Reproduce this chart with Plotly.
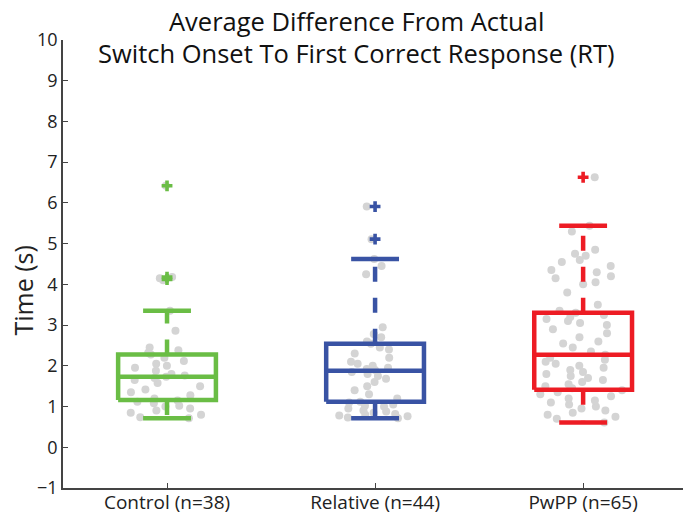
import plotly.graph_objects as go

groups = ["Control (n=38)", "Relative (n=44)", "PwPP (n=65)"]
colors = ["#6abd45", "#3953a4", "#ed1c24"]

# box statistics
q1 = [1.16, 1.12, 1.41]
median = [1.73, 1.88, 2.27]
q3 = [2.28, 2.54, 3.30]
lower_cap = [0.71, 0.71, 0.61]
upper_cap = [3.35, 4.62, 5.44]
outliers = [[4.12, 4.18, 6.42], [5.11, 5.91], [6.63]]

# individual subject values (gray dots)
control_vals = [0.71, 0.74, 0.8, 0.85, 0.9, 0.95, 1.0, 1.02, 1.08, 1.12, 1.15, 1.2, 1.28, 1.35,
                1.42, 1.5, 1.58, 1.65, 1.7, 1.73, 1.76, 1.8, 1.88, 1.95, 2.0, 2.05, 2.12, 2.2,
                2.28, 2.32, 2.38, 2.45, 2.86, 3.35, 4.1, 4.15, 4.18, 6.42]
relative_vals = [0.71, 0.73, 0.76, 0.78, 0.8, 0.82, 0.85, 0.88, 0.9, 0.95, 1.0, 1.02, 1.05, 1.1,
                 1.12, 1.2, 1.3, 1.4, 1.5, 1.6, 1.68, 1.75, 1.8, 1.85, 1.9, 1.92, 1.95, 2.0,
                 2.05, 2.1, 2.2, 2.3, 2.4, 2.45, 2.54, 2.6, 2.7, 2.78, 2.95, 4.25, 4.45, 4.62,
                 5.11, 5.91]
pwpp_vals = [0.61, 0.7, 0.75, 0.8, 0.85, 0.9, 0.95, 1.0, 1.05, 1.1, 1.15, 1.2, 1.25, 1.3, 1.35,
             1.4, 1.45, 1.5, 1.55, 1.6, 1.65, 1.7, 1.75, 1.8, 1.85, 1.9, 1.95, 2.0, 2.05, 2.1,
             2.15, 2.2, 2.27, 2.35, 2.45, 2.55, 2.6, 2.7, 2.8, 2.9, 3.0, 3.05, 3.1, 3.15, 3.2,
             3.25, 3.3, 3.35, 3.5, 3.8, 4.0, 4.05, 4.15, 4.2, 4.3, 4.35, 4.45, 4.55, 4.6, 4.7,
             4.75, 4.85, 5.3, 5.44, 6.63]
all_vals = [control_vals, relative_vals, pwpp_vals]

y_ticks = list(range(-1, 11))

half_box = 0.235
half_cap = 0.115
line_w = 4.5

fig = go.Figure()

# jittered raw points
for i, vals in enumerate(all_vals):
    fig.add_trace(
        go.Box(
            x=[i + 1] * len(vals),
            y=vals,
            boxpoints="all",
            jitter=0.9,
            pointpos=0,
            width=2 * half_box,
            line=dict(width=0, color="rgba(0,0,0,0)"),
            fillcolor="rgba(0,0,0,0)",
            whiskerwidth=0,
            marker=dict(color="#d4d4d4", size=8, opacity=1),
            showlegend=False,
            hoverinfo="y",
        )
    )

for i, c in enumerate(colors):
    x0 = i + 1
    # box outline
    fig.add_trace(
        go.Scatter(
            x=[x0 - half_box, x0 + half_box, x0 + half_box, x0 - half_box, x0 - half_box],
            y=[q1[i], q1[i], q3[i], q3[i], q1[i]],
            mode="lines",
            line=dict(color=c, width=line_w),
            showlegend=False,
            hoverinfo="skip",
        )
    )
    # median
    fig.add_trace(
        go.Scatter(
            x=[x0 - half_box, x0 + half_box],
            y=[median[i], median[i]],
            mode="lines",
            line=dict(color=c, width=line_w),
            showlegend=False,
            hoverinfo="skip",
        )
    )
    # whiskers (dashed)
    for start, end in [(q3[i], upper_cap[i]), (q1[i], lower_cap[i])]:
        fig.add_trace(
            go.Scatter(
                x=[x0, x0],
                y=[start, end],
                mode="lines",
                line=dict(color=c, width=line_w, dash="15px,16px"),
                showlegend=False,
                hoverinfo="skip",
            )
        )
    # caps
    for cap in [upper_cap[i], lower_cap[i]]:
        fig.add_trace(
            go.Scatter(
                x=[x0 - half_cap, x0 + half_cap],
                y=[cap, cap],
                mode="lines",
                line=dict(color=c, width=line_w),
                showlegend=False,
                hoverinfo="skip",
            )
        )
    # outliers
    fig.add_trace(
        go.Scatter(
            x=[x0] * len(outliers[i]),
            y=outliers[i],
            mode="markers",
            marker=dict(color=c, size=9, symbol="cross", line=dict(width=0)),
            showlegend=False,
            hoverinfo="y",
        )
    )

font_family = "Open Sans, Lato, sans-serif"
title_lines = ["Average Difference From Actual", "Switch Onset To First Correct Response (RT)"]

for text, shift in zip(title_lines, [19, -13]):
    fig.add_annotation(
        text=text,
        x=0.474,
        y=1.0,
        xref="paper",
        yref="paper",
        xanchor="center",
        yanchor="middle",
        yshift=shift,
        showarrow=False,
        font=dict(family=font_family, size=25.5, color="#111111"),
    )

# y axis title
fig.add_annotation(
    text="Time (s)",
    x=-0.065,
    y=0.44,
    xref="paper",
    yref="paper",
    xanchor="center",
    yanchor="middle",
    textangle=-90,
    showarrow=False,
    font=dict(family=font_family, size=25, color="#222222"),
)

fig.update_layout(
    width=683,
    height=518,
    margin=dict(l=63, r=0, t=40, b=30),
    paper_bgcolor="white",
    plot_bgcolor="white",
    font=dict(family=font_family, size=18, color="#222222"),
    showlegend=False,
    xaxis=dict(
        range=[0.5, 3.48],
        tickmode="array",
        tickvals=[1, 2, 3],
        ticktext=groups,
        ticks="inside",
        ticklen=5,
        tickcolor="#444444",
        tickwidth=1.2,
        showline=True,
        linecolor="#444444",
        linewidth=1.5,
        showgrid=False,
        zeroline=False,
        automargin=False,
        ticklabelstandoff=-4,
        tickfont=dict(size=19),
    ),
    yaxis=dict(
        range=[-1, 10],
        tickmode="array",
        tickvals=y_ticks,
        ticks="inside",
        ticklen=5,
        tickcolor="#444444",
        tickwidth=1.2,
        showline=True,
        linecolor="#444444",
        linewidth=1.5,
        showgrid=False,
        zeroline=False,
        automargin=False,
        tickfont=dict(size=18),
    ),
)

# drop the default 8px page margin so the figure fills the window
fig.write_html(
    "out.html",
    config={"displayModeBar": False},
    post_script="document.body.style.margin = '0';",
)
